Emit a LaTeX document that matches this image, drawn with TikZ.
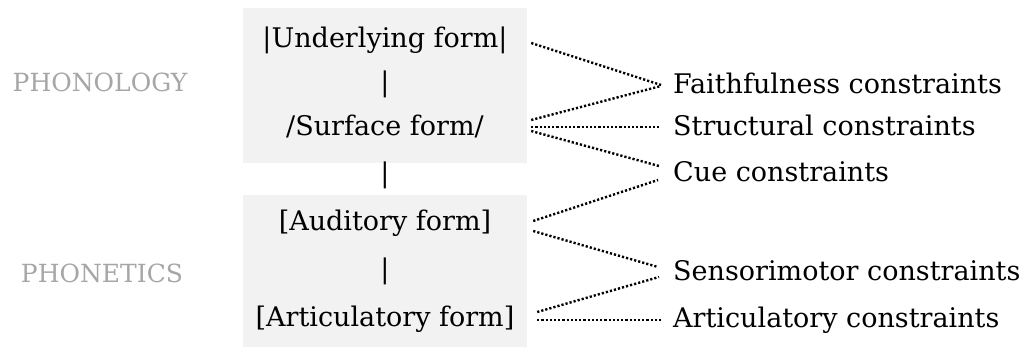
\documentclass[tikz,border=0pt]{standalone}
\usepackage{fontspec}
\setmainfont{DejaVu Serif}
\usetikzlibrary{calc}
\definecolor{boxgray}{HTML}{F2F2F2}
\definecolor{labgray}{HTML}{A6A6A6}

\begin{document}
\begin{tikzpicture}[x=1pt,y=-1pt,
  panel/.style={fill=boxgray,inner sep=0pt,minimum width=284pt},
  form/.style={font=\fontsize{27}{32}\selectfont,inner sep=0pt,anchor=base},
  cons/.style={font=\fontsize{27}{32}\selectfont,inner sep=0pt,anchor=base west},
  level/.style={font=\fontsize{25}{30}\selectfont,text=labgray,inner sep=0pt,anchor=base},
  link/.style={line width=2.4pt,dash pattern=on 2.2pt off 2pt}]
\useasboundingbox (0,0) rectangle (1024,347);
% shaded levels
\node[panel,minimum height=155pt] (phonol) at (385,85.5) {};
\node[panel,minimum height=153pt] (phonet) at (385,271.5) {};
\node[level] (lphonol) at (100,92) {PHONOLOGY};
\node[level] (lphonet) at (102,282) {PHONETICS};
% representations
\node[form] (uf) at (385,48) {|Underlying form|};
\node[form] (sf) at (385,136) {/Surface form/};
\node[form] (af) at (385,230) {[Auditory form]};
\node[form] (arf) at (385,326) {[Articulatory form]};
\foreach \y/\n in {92/bar1,183/bar2,278/bar3}
  \node[form] (\n) at (385,\y) {|};
% constraint families
\node[cons] (faith) at (673,94) {Faithfulness constraints};
\node[cons] (struc) at (673,136) {Structural constraints};
\node[cons] (cue) at (673,182) {Cue constraints};
\node[cons] (senso) at (673,280) {Sensorimotor constraints};
\node[cons] (artic) at (673,327) {Articulatory constraints};
% dotted links
\draw[link] ($(phonol.east |- uf.base)+(4,-5)$) -- ($(faith.base west)+(-12,-9)$);
\draw[link] ($(phonol.east |- sf.base)+(4,-16)$) -- ($(faith.base west)+(-12,-8)$);
\draw[link] ($(phonol.east |- sf.base)+(4,-9)$) -- ($(struc.base west)+(-12,-9)$);
\draw[link] ($(phonol.east |- sf.base)+(4,-5)$) -- ($(cue.base west)+(-14,-16)$);
\draw[link] ($(phonet.east |- af.base)+(6,-9)$) -- ($(cue.base west)+(-15,-2)$);
\draw[link] ($(phonet.east |- af.base)+(6,1)$) -- ($(senso.base west)+(-15,-13)$);
\draw[link] ($(phonet.east |- arf.base)+(10,-14)$) -- ($(senso.base west)+(-14,-3)$);
\draw[link] ($(phonet.east |- arf.base)+(10,-6)$) -- ($(artic.base west)+(-12,-7)$);
\end{tikzpicture}
\end{document}
